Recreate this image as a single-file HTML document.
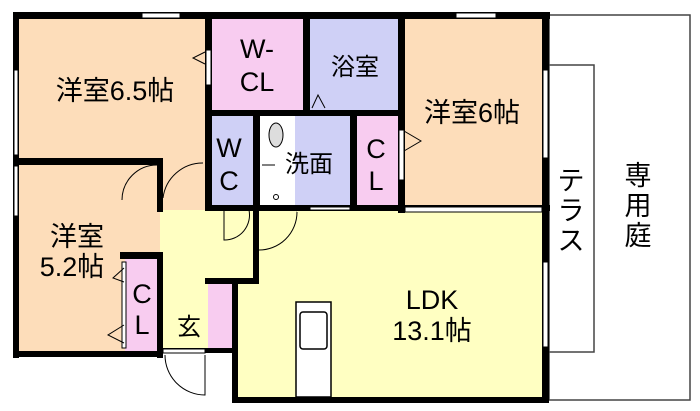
<!DOCTYPE html>
<html><head><meta charset="utf-8"><style>
html,body{margin:0;padding:0;background:#fff;width:700px;height:411px;overflow:hidden}
text{font-family:"Liberation Sans","Noto Sans CJK JP",sans-serif;fill:#000}
</style></head><body>
<svg width="700" height="411" viewBox="0 0 700 411" xmlns="http://www.w3.org/2000/svg">
<rect x="549" y="15" width="141" height="385" fill="#fff" stroke="#444" stroke-width="1.5"/>
<rect x="549" y="65" width="45" height="287" fill="#fff" stroke="#444" stroke-width="1.5"/>
<rect x="18" y="18" width="190" height="145" fill="#FDDDBA"/>
<rect x="18" y="163" width="142" height="192" fill="#FDDDBA"/>
<rect x="160" y="163" width="48" height="47" fill="#FDDDBA"/>
<rect x="208" y="18" width="98" height="95" fill="#F8CCF0"/>
<rect x="306" y="18" width="95" height="95" fill="#CFD0F6"/>
<rect x="208" y="113" width="48" height="95" fill="#CFD0F6"/>
<rect x="256" y="113" width="98" height="95" fill="#CFD0F6"/>
<rect x="260" y="116" width="35" height="89" fill="#fff"/>
<rect x="354" y="113" width="48" height="95" fill="#F8CCF0"/>
<rect x="401" y="18" width="143" height="190" fill="#FDDDBA"/>
<rect x="160" y="210" width="96" height="70" fill="#FFFFC2"/>
<rect x="235" y="208" width="309" height="192" fill="#FFFFC2"/>
<rect x="163" y="280" width="45" height="72" fill="#FFFFC2"/>
<rect x="208" y="283" width="27" height="69" fill="#F8CCF0"/>
<rect x="125" y="258" width="35" height="94" fill="#F8CCF0"/>
<g fill="#000">
<rect x="13" y="12" width="537" height="7"/>
<rect x="13" y="12" width="6" height="346"/>
<rect x="13" y="351" width="150" height="6"/>
<rect x="542" y="12" width="7" height="391"/>
<rect x="232" y="397" width="317" height="6"/>
<rect x="205" y="12" width="7" height="196"/>
<rect x="303" y="12" width="7" height="104"/>
<rect x="398" y="12" width="7" height="201"/>
<rect x="205" y="110" width="200" height="6"/>
<rect x="253" y="110" width="7" height="100"/>
<rect x="350" y="110" width="7" height="100"/>
<rect x="13" y="158" width="150" height="7"/>
<rect x="157" y="158" width="6" height="54"/>
<rect x="120" y="252" width="43" height="7"/>
<rect x="157" y="252" width="6" height="106"/>
<rect x="205" y="205" width="345" height="6"/>
<rect x="253" y="205" width="6" height="78"/>
<rect x="205" y="278" width="54" height="6"/>
<rect x="232" y="278" width="6" height="125"/>
<rect x="163" y="348" width="72" height="5"/>
</g>
<g fill="#fff" stroke="#000" stroke-width="1">
<rect x="142" y="13" width="38" height="5"/>
<rect x="456" y="13" width="40" height="5"/>
<rect x="14" y="70" width="4" height="85"/>
<rect x="14" y="166" width="4" height="50"/>
<rect x="543" y="70" width="5" height="88"/>
<rect x="543" y="262" width="5" height="85"/>
<rect x="206" y="50" width="5" height="35"/>
<rect x="399" y="130" width="5" height="50"/>
<rect x="405" y="207" width="137" height="5"/>
<rect x="310" y="207" width="40" height="3"/>
<rect x="122" y="262" width="4" height="86"/>
<rect x="163" y="349" width="42" height="4"/>
</g>
<g fill="none" stroke="#000" stroke-width="1">
<path d="M163 198 A40 40 0 0 1 203 163"/>
<path d="M157 165 A35 35 0 0 0 122 200"/>
<path d="M249 210 A25 25 0 0 1 224 240 L224 210"/>
<path d="M260 210 A38 38 0 0 1 297 211 M258 250 A38 38 0 0 0 297 212"/>
<path d="M165 355 A40 40 0 0 0 205 395 L205 355"/>
<path d="M205 52 L193 58 L205 64"/>
<path d="M404 131 L421 141 L404 151"/>
<path d="M124 325 L108 335 L124 343"/>
<path d="M124 268 L113 278 L124 282"/>
<path d="M312 108 L318 95 L325 108"/>
</g>
<ellipse cx="276" cy="135" rx="7" ry="12" fill="#ddd" stroke="#000" stroke-width="1"/>
<circle cx="276" cy="197" r="2.5" fill="#fff" stroke="#000"/>
<path d="M262 165 H275" stroke="#000" fill="none"/>
<rect x="296" y="302" width="35" height="95" fill="#fff" stroke="#000" stroke-width="1.5"/>
<rect x="300" y="312" width="27" height="37" rx="3" fill="#fff" stroke="#000" stroke-width="1.5"/>
<g font-size="27">
<text x="115" y="100" text-anchor="middle">洋室6.5帖</text>
<text x="472" y="122" text-anchor="middle">洋室6帖</text>
<text x="77" y="246" text-anchor="middle">洋室</text>
<text x="72" y="276" text-anchor="middle">5.2帖</text>
<text x="432" y="309" text-anchor="middle">LDK</text>
<text x="432" y="340" text-anchor="middle">13.1帖</text>
<text x="257" y="58" text-anchor="middle">W-</text>
<text x="257" y="91" text-anchor="middle">CL</text>
<text x="229" y="157" text-anchor="middle">W</text>
<text x="229" y="190" text-anchor="middle">C</text>
<text x="376" y="158" text-anchor="middle">C</text>
<text x="376" y="190" text-anchor="middle">L</text>
<text x="142" y="303" text-anchor="middle">C</text>
<text x="142" y="334" text-anchor="middle">L</text>
</g>
<g font-size="24">
<text x="355" y="75" text-anchor="middle">浴室</text>
<text x="309" y="172" text-anchor="middle">洗面</text>
<text x="189" y="335" text-anchor="middle">玄</text>
</g>
<g font-size="27">
<text x="571" y="190" text-anchor="middle">テ</text>
<text x="571" y="220" text-anchor="middle">ラ</text>
<text x="571" y="250" text-anchor="middle">ス</text>
<text x="638" y="185" text-anchor="middle">専</text>
<text x="638" y="215" text-anchor="middle">用</text>
<text x="638" y="245" text-anchor="middle">庭</text>
</g>
</svg>
</body></html>
